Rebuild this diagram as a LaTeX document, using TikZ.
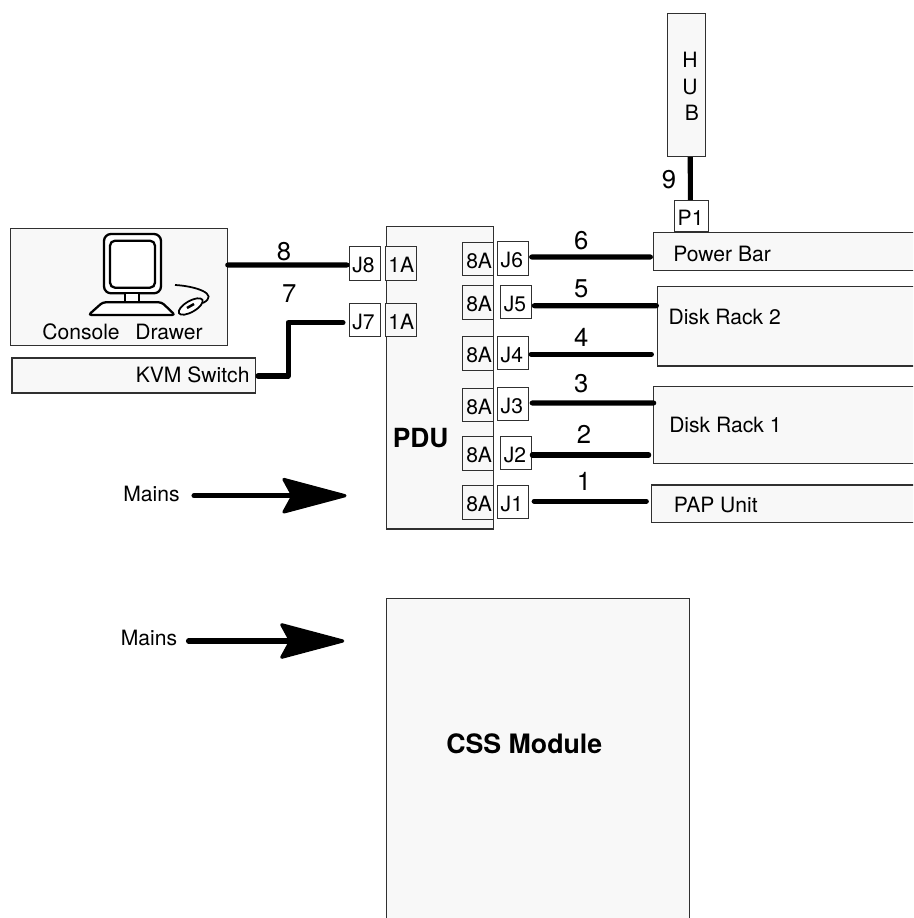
\documentclass[tikz,border=0pt]{standalone}
\usepackage{fontspec}
\setmainfont{TeX Gyre Heros}
\usepackage{xcolor}
\usepackage{tikz}
\usetikzlibrary{arrows.meta,calc}
\definecolor{panel}{HTML}{F8F8F8}
\definecolor{edge}{HTML}{303030}
\tikzset{
  Pbox/.style={draw=edge, fill=panel, line width=0.6pt, anchor=west, inner sep=0pt},
  Jack/.style={draw=edge, fill=white, line width=0.5pt, anchor=west, align=left,
               font=\fontsize{12}{14}\selectfont, text width=0.5cm, inner xsep=0.06cm,
               inner ysep=0pt, text height=0.374cm, text depth=0pt,
               minimum height=0.67cm},
  Fuse/.style={Jack, fill=panel, align=right, text width=0.58cm, inner xsep=0.02cm},
  Lbl/.style={anchor=base west, inner sep=0pt, font=\fontsize{12}{14}\selectfont},
  Head/.style={anchor=base west, inner sep=0pt, font=\fontsize{15}{18}\selectfont\bfseries},
  Num/.style={anchor=base, inner sep=0pt, font=\fontsize{14.6}{17}\selectfont},
  Wire/.style={line width=2.9pt, line cap=round, line join=round},
  MainsArr/.style={line width=2.9pt, line cap=round,
                   -{Stealth[length=1.4cm,width=0.74cm,inset=0.2cm,round,line width=1.8pt]}},
  Icon/.style={draw=black, fill=white, line width=1.3pt, line join=round}
}
\begin{document}
\begin{tikzpicture}
  \useasboundingbox (0,0) rectangle (18.26,-18.36);
  \clip (0,0) rectangle (18.26,-18.36);

  \node[Pbox, minimum width=0.772cm, minimum height=2.868cm] (hub) at (13.334,-1.7) {};
  \node[Lbl, anchor=north west, align=left, font=\fontsize{12}{15}\selectfont] (hubT)
    at (13.64,-1.04) {H\\U\\\hspace*{1.5pt}B};
  \node[Jack, text width=0.546cm, minimum height=0.628cm] (P1) at (13.486,-4.32) {P1};

  \node[Pbox, minimum width=6cm, minimum height=0.752cm] (bar) at (13.058,-5.03) {};
  \node[Pbox, minimum width=6cm, minimum height=1.594cm] (rackB) at (13.148,-6.523) {};
  \node[Pbox, minimum width=6cm, minimum height=1.54cm] (rackA) at (13.06,-8.504) {};
  \node[Pbox, minimum width=6cm, minimum height=0.754cm] (pap) at (13.02,-10.077) {};
  \node[Lbl] (barT) at (13.46,-5.234) {Power Bar};
  \node[Lbl] (rackBT) at (13.364,-6.487) {Disk Rack 2};
  \node[Lbl] (rackAT) at (13.378,-8.653) {Disk Rack 1};
  \node[Lbl] (papT) at (13.47,-10.253) {PAP Unit};

  \node[Pbox, minimum width=4.334cm, minimum height=2.344cm] (console) at (0.2,-5.74) {};
  \node[Pbox, minimum width=4.87cm, minimum height=0.7cm] (kvm) at (0.23,-7.51) {};
  \node[Lbl] (consoleT) at (0.84,-6.78) {Console\ \ \kern2.2pt Drawer};
  \node[Lbl] (kvmT) at (2.71,-7.654) {KVM Switch};

  \draw[Icon, rounded corners=0.14cm] (2.08,-4.68) rectangle (3.22,-5.866);
  \draw[Icon, rounded corners=0.1cm] (2.2,-4.814) rectangle (3.1,-5.754);
  \draw[Icon] (2.5,-5.866) rectangle (2.786,-6.046);
  \draw[Icon, rounded corners=0.06cm] (2.054,-6.046) -- (3.234,-6.046) -- (3.5,-6.3)
    -- (1.77,-6.3) -- cycle;
  \draw[Icon, line width=1pt, rotate around={30:(3.814,-6.13)}] (3.814,-6.13) ellipse (0.27 and 0.11);
  \draw[line width=1.4pt] (3.74,-6.16) -- (3.88,-6.08);
  \draw[line width=1pt] (3.5,-5.7) .. controls (3.9,-5.72) and (4.4,-5.88) .. (4.06,-6.06);

  \node[Pbox, minimum width=2.14cm, minimum height=6.05cm] (pdu) at (7.71,-7.555) {};
  \node[Head] (pduT) at (7.85,-8.954) {PDU};

  \node[Jack, fill=panel, align=center, text width=0.49cm, inner xsep=0.06cm] (fuseH) at (7.7,-5.27) {1A};
  \node[Jack, fill=panel, align=center, text width=0.49cm, inner xsep=0.06cm] (fuseG) at (7.7,-6.4) {1A};
  \node[Jack] (J8) at (6.98,-5.265) {J8};
  \node[Jack] (J7) at (6.98,-6.395) {J7};

  \node[Fuse] (fuseF) at (9.232,-5.175) {8A};
  \node[Fuse] (fuseE) at (9.232,-6.045) {8A};
  \node[Fuse] (fuseD) at (9.232,-7.065) {8A};
  \node[Fuse] (fuseC) at (9.232,-8.095) {8A};
  \node[Fuse] (fuseB) at (9.232,-9.065) {8A};
  \node[Fuse] (fuseA) at (9.232,-10.045) {8A};
  \node[Jack] (J6) at (9.946,-5.165) {J6};
  \node[Jack] (J5) at (10.008,-6.035) {J5};
  \node[Jack] (J4) at (9.946,-7.055) {J4};
  \node[Jack] (J3) at (9.946,-8.08) {J3};
  \node[Jack] (J2) at (10.008,-9.055) {J2};
  \node[Jack] (J1) at (9.946,-10.035) {J1};

  \node[Num] (n9) at (13.38,-3.766) {9};
  \node[Num] (n8) at (5.68,-5.2) {8};
  \node[Num] (n7) at (5.786,-6.046) {7};
  \node[Num] (n6) at (11.624,-4.98) {6};
  \node[Num] (n5) at (11.624,-5.954) {5};
  \node[Num] (n4) at (11.624,-6.934) {4};
  \node[Num] (n3) at (11.624,-7.854) {3};
  \node[Num] (n2) at (11.68,-8.866) {2};
  \node[Num] (n1) at (11.68,-9.8) {1};

  \draw[Wire, line cap=butt] ($(hub.south)+(0.074,0)$) -- ($(P1.north)+(-0.02,0)$);
  \draw[Wire] ($(console.east)+(0,0.44)$) -- ($(J8.west)+(-0.04,-0.035)$);
  \draw[Wire] ($(kvm.east)+(0.04,-0.01)$) -- ++(0.6,0) |- ($(J7.west)+(-0.12,-0.059)$);
  \draw[Wire] ($(J6.east)+(0.05,0.025)$) -- ($(bar.west)+(-0.05,-0.11)$);
  \draw[Wire] ($(J5.east)+(0.04,-0.079)$) -- ($(rackB.west)+(-0.02,0.409)$);
  \draw[Wire] ($(J4.east)+(0.04,-0.031)$) -- ($(rackB.west)+(-0.12,-0.563)$);
  \draw[Wire] ($(J3.east)+(0.06,0.02)$) -- ($(rackA.west)+(0.014,0.444)$);
  \draw[Wire] ($(J2.east)+(0,-0.045)$) -- ($(rackA.west)+(-0.086,-0.596)$);
  \draw[Wire] ($(J1.east)+(0.1,0.009)$) -- ($(pap.west)+(-0.094,0.051)$);

  \node[Lbl] (mainsA) at (2.46,-10.033) {Mains};
  \node[Lbl] (mainsB) at (2.41,-12.913) {Mains};
  \coordinate (tailA) at (3.88,-9.914);
  \coordinate (tipA) at (6.93,-9.914);
  \coordinate (tailB) at (3.77,-12.82);
  \coordinate (tipB) at (6.886,-12.82);
  \draw[MainsArr] (tailA) -- (tipA);
  \draw[MainsArr] (tailB) -- (tipB);

  \node[Pbox, minimum width=6.06cm, minimum height=6.83cm] (css) at (7.71,-15.385) {};
  \node[Head, font=\fontsize{15.2}{18}\selectfont\bfseries] (cssT) at (8.92,-15.067) {CSS Module};
\end{tikzpicture}
\end{document}
